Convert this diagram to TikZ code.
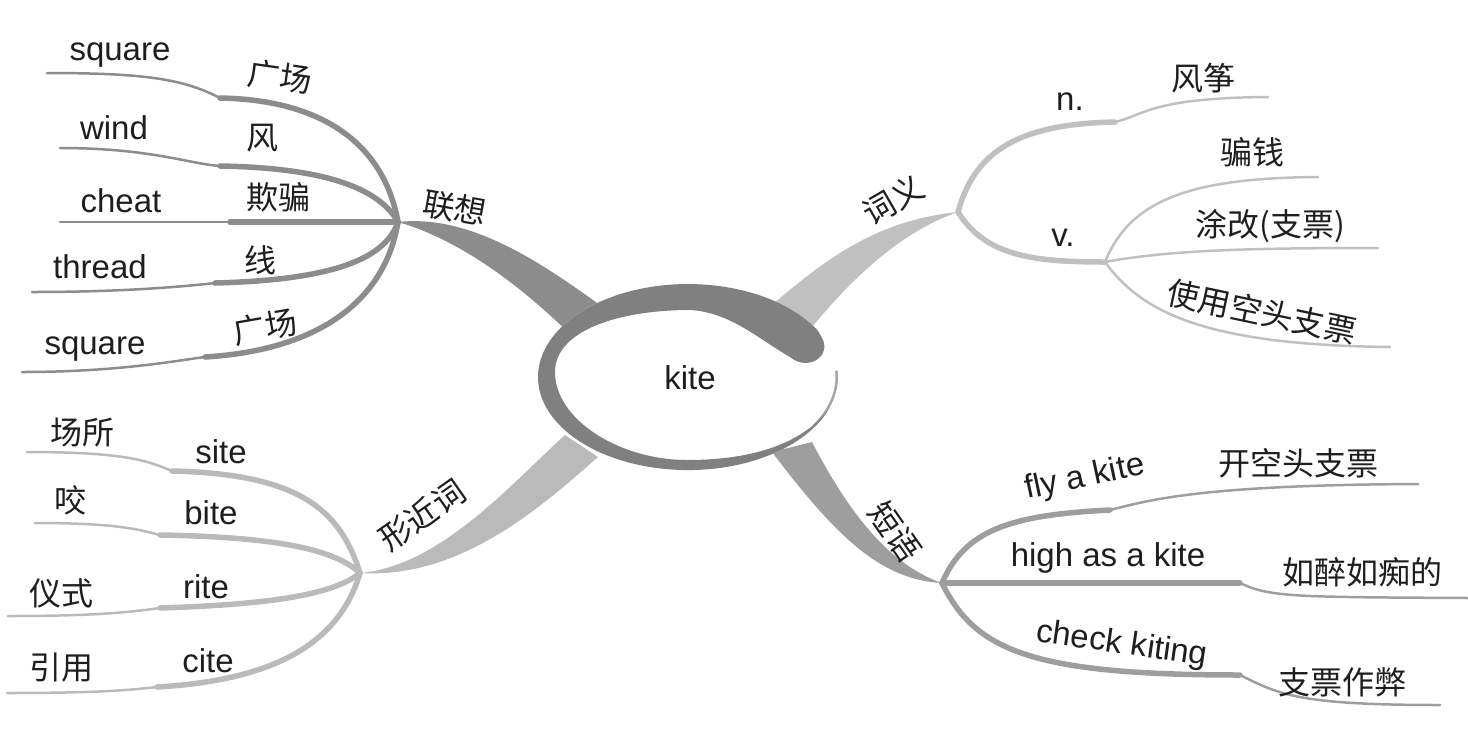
\documentclass[tikz,border=0pt]{standalone}
\usepackage{fontspec}
\setmainfont{Liberation Sans}
\newfontfamily\cjk{Noto Sans CJK SC}
\definecolor{ulc}{RGB}{140,140,140}
\definecolor{urc}{RGB}{192,192,192}
\definecolor{llc}{RGB}{186,186,186}
\definecolor{lrc}{RGB}{158,158,158}
\definecolor{ringc}{RGB}{128,128,128}
\definecolor{rimc}{RGB}{165,165,165}
\definecolor{txt}{RGB}{30,30,30}
\begin{document}
\begin{tikzpicture}[x=1pt,y=-1pt,
  tx/.style={inner sep=0pt, text=txt, font=\fontsize{33}{35}\selectfont},
  cj/.style={inner sep=0pt, text=txt, font=\cjk\fontsize{32}{34}\selectfont},
  thk/.style={line width=5.5pt, line cap=round},
  thn/.style={line width=2.5pt, line cap=round}]
\useasboundingbox (0,0) rectangle (1468,737);

% ---------- coordinates ----------
\coordinate (HL) at (398,222);
\coordinate (L1s) at (220,98);  \coordinate (L1e) at (47,73);
\coordinate (L2s) at (220,166); \coordinate (L2e) at (60,148);
\coordinate (L3s) at (230,222); \coordinate (L3e) at (60,222);
\coordinate (L4s) at (215,283); \coordinate (L4e) at (32,292);
\coordinate (L5s) at (205,357); \coordinate (L5e) at (22,372);

\coordinate (HR) at (958,212);
\coordinate (Ns) at (1115,122); \coordinate (Ne) at (1268,97);
\coordinate (V) at (1105,262);
\coordinate (V1e) at (1318,177);
\coordinate (V2e) at (1378,248);
\coordinate (V3e) at (1390,347);

\coordinate (HLL) at (360,573);
\coordinate (S1s) at (172,471); \coordinate (S1e) at (27,452);
\coordinate (S2s) at (160,535); \coordinate (S2e) at (35,523);
\coordinate (S3s) at (160,608); \coordinate (S3e) at (8,616);
\coordinate (S4s) at (157,687); \coordinate (S4e) at (7,693);

\coordinate (HLR) at (942,583);
\coordinate (P1s) at (1110,510); \coordinate (P1e) at (1418,484);
\coordinate (P2s) at (1240,583); \coordinate (P2e) at (1468,598);
\coordinate (P3s) at (1240,675); \coordinate (P3e) at (1440,705);

% ---------- main branches ----------
\fill[ulc] (HL) .. controls (470,214) and (540,262) .. (600,305) -- (572,336) .. controls (520,285) and (460,240) .. (HL) -- cycle;
\fill[urc] (HR) .. controls (880,220) and (830,255) .. (772,305) -- (808,332) .. controls (850,280) and (900,232) .. (HR) -- cycle;
\fill[llc] (HLL) .. controls (440,566) and (510,485) .. (565,435) -- (598,457) .. controls (540,508) and (460,579) .. (HLL) -- cycle;
\fill[lrc] (HLR) .. controls (880,580) and (835,535) .. (772,452) -- (812,442) .. controls (850,515) and (890,565) .. (HLR) -- cycle;

% ---------- upper-left leaves ----------
\begin{scope}[draw=ulc]
\draw[thk] (HL) .. controls (385,150) and (330,100) .. (L1s);
\draw[thn] (L1s) .. controls (185,80) and (150,73) .. (L1e);
\draw[thk] (HL) .. controls (380,190) and (330,168) .. (L2s);
\draw[thn] (L2s) .. controls (190,164) and (150,148) .. (L2e);
\draw[thk] (HL) -- (L3s);
\draw[thn] (L3s) -- (L3e);
\draw[thk] (HL) .. controls (385,260) and (330,280) .. (L4s);
\draw[thn] (L4s) .. controls (180,287) and (120,292) .. (L4e);
\draw[thk] (HL) .. controls (385,300) and (320,350) .. (L5s);
\draw[thn] (L5s) .. controls (180,360) and (120,372) .. (L5e);
\end{scope}

% ---------- upper-right leaves ----------
\begin{scope}[draw=urc]
\draw[thk] (HR) .. controls (975,150) and (1020,124) .. (Ns);
\draw[thn] (Ns) .. controls (1145,115) and (1150,98) .. (Ne);
\draw[thk] (HR) .. controls (985,255) and (1030,262) .. (V);
\draw[thn] (V) .. controls (1130,200) and (1190,178) .. (V1e);
\draw[thn] (V) .. controls (1170,250) and (1250,248) .. (V2e);
\draw[thn] (V) .. controls (1140,310) and (1200,345) .. (V3e);
\end{scope}

% ---------- lower-left leaves ----------
\begin{scope}[draw=llc]
\draw[thk] (HLL) .. controls (340,510) and (300,474) .. (S1s);
\draw[thn] (S1s) .. controls (150,462) and (130,452) .. (S1e);
\draw[thk] (HLL) .. controls (335,550) and (280,537) .. (S2s);
\draw[thn] (S2s) .. controls (140,530) and (120,523) .. (S2e);
\draw[thk] (HLL) .. controls (330,598) and (250,605) .. (S3s);
\draw[thn] (S3s) .. controls (130,612) and (100,616) .. (S3e);
\draw[thk] (HLL) .. controls (340,640) and (280,680) .. (S4s);
\draw[thn] (S4s) .. controls (130,690) and (100,693) .. (S4e);
\end{scope}

% ---------- lower-right leaves ----------
\begin{scope}[draw=lrc]
\draw[thk] (HLR) .. controls (965,530) and (1010,515) .. (P1s);
\draw[thn] (P1s) .. controls (1150,500) and (1200,485) .. (P1e);
\draw[thk] (HLR) -- (P2s);
\draw[thn] (P2s) .. controls (1270,597) and (1290,597) .. (P2e);
\draw[thk] (HLR) .. controls (975,650) and (1030,675) .. (P3s);
\draw[thn] (P3s) .. controls (1280,695) and (1300,705) .. (P3e);
\end{scope}

% ---------- centre ----------
\fill[white] (688,377) ellipse[x radius=150, y radius=93];
\draw[rimc, line width=2.5pt] (688,377) ++(-4:148.7 and 91.7) arc[start angle=-4, end angle=32, x radius=148.7, y radius=91.7];
\fill[ringc] (813.8,326.4) arc[start angle=-33, end angle=-340, x radius=150, y radius=93]
  .. controls (805,440) and (760,460) .. (687,460)
  .. controls (620,460) and (555,420) .. (555,372)
  .. controls (555,330) and (620,310) .. (690,310)
  .. controls (730,312) and (760,340) .. (790,357)
  .. controls (808,372) and (832,356) .. (822,338)
  .. controls (819,332) and (817,329) .. (813.8,326.4) -- cycle;
\node[tx] (kite) at (690,378) {kite};

% ---------- labels ----------
\node[cj, rotate=-10] (lx) at (455,208) {联想};
\node[cj, rotate=30] (cy) at (893,200) {词义};
\node[cj, rotate=35] (xj) at (422,515) {形近词};
\node[cj, rotate=-55] (dy) at (895,532) {短语};

\node[tx] (t1) at (120,55) {square};
\node[cj, rotate=-8] (c1) at (280,77) {广场};
\node[tx] (t2) at (114,128) {wind};
\node[cj] (c2) at (262,138) {风};
\node[tx] (t3) at (121,201) {cheat};
\node[cj] (c3) at (278,197) {欺骗};
\node[tx] (t4) at (100,267) {thread};
\node[cj] (c4) at (260,260) {线};
\node[tx] (t5) at (95,349) {square};
\node[cj, rotate=10] (c5) at (265,327) {广场};

\node[tx] (n) at (1070,102) {n.};
\node[cj] (fz) at (1203,78) {风筝};
\node[cj] (pq) at (1252,152) {骗钱};
\node[tx] (v) at (1063,238) {v.};
\node[cj] (tg) at (1270,226) {涂改(支票)};
\node[cj, rotate=-12] (sy) at (1262,312) {使用空头支票};

\node[cj] (cs) at (82,433) {场所};
\node[tx] (site) at (221,452) {site};
\node[cj] (yao) at (70,500) {咬};
\node[tx] (bite) at (211,513) {bite};
\node[cj] (ys) at (62,593) {仪式};
\node[tx] (rite) at (206,587) {rite};
\node[cj] (yy) at (62,668) {引用};
\node[tx] (cite) at (208,661) {cite};

\node[tx, rotate=12] (fly) at (1085,478) {fly a kite};
\node[cj] (kk) at (1298,463) {开空头支票};
\node[tx] (high) at (1108,558) {high as a kite};
\node[cj] (rz) at (1362,572) {如醉如痴的};
\node[tx, rotate=-8] (chk) at (1122,645) {check kiting};
\node[cj] (zp) at (1342,682) {支票作弊};
\end{tikzpicture}
\end{document}
